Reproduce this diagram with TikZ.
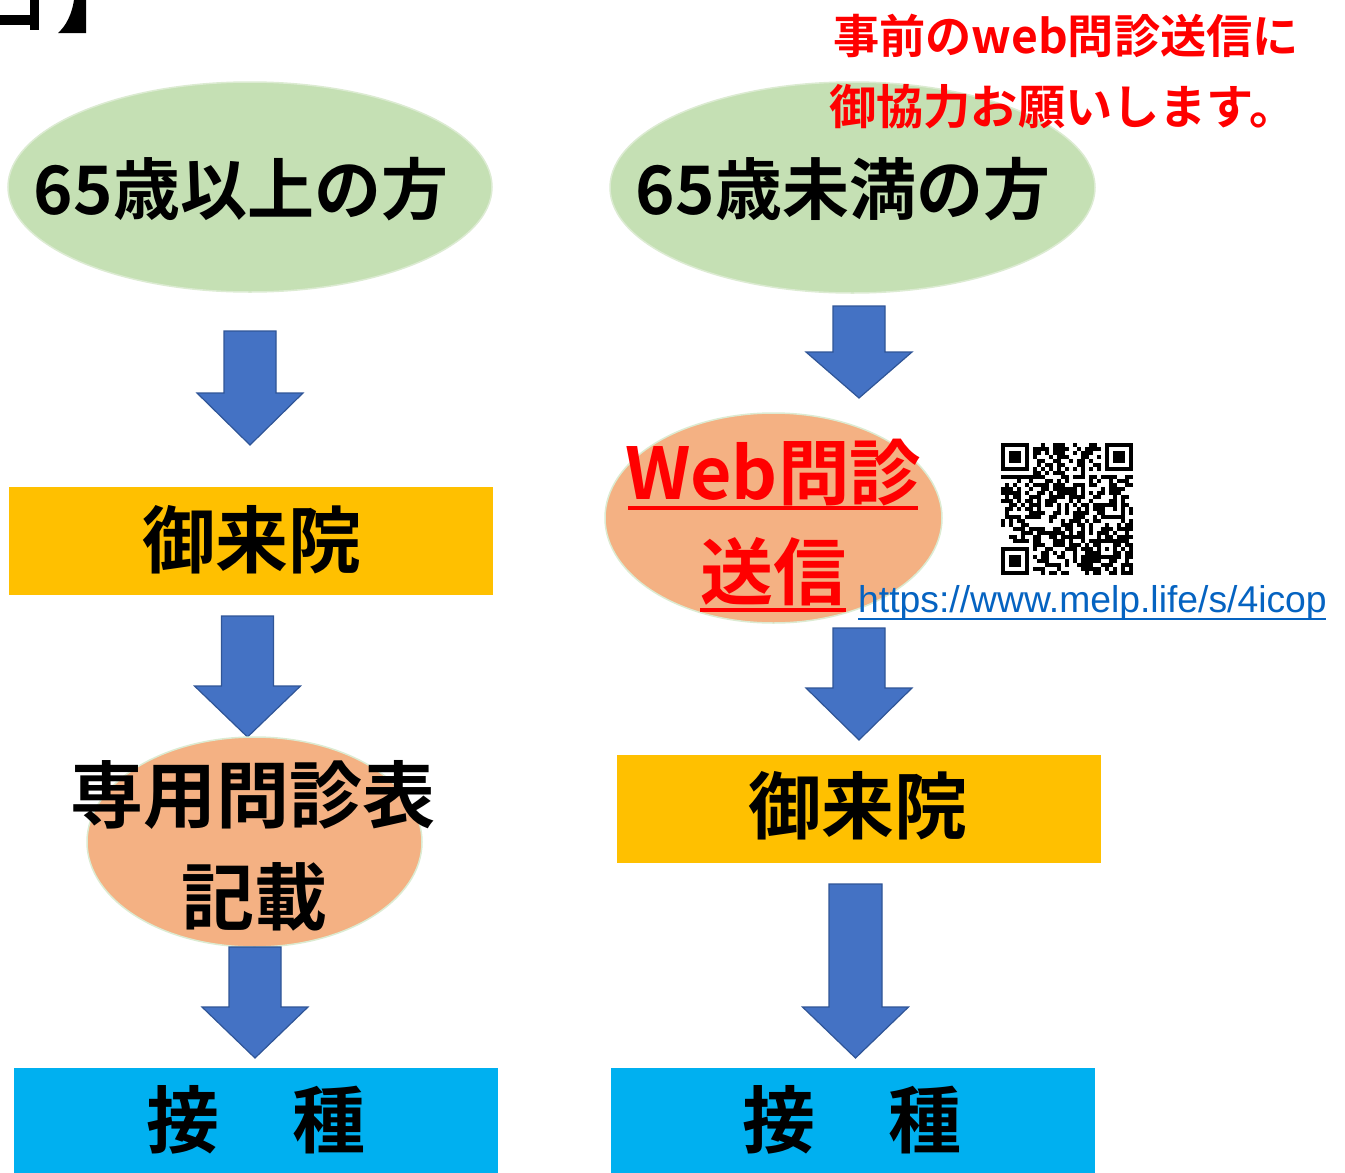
\documentclass[tikz,border=0pt]{standalone}
\usepackage{fontspec}
\usetikzlibrary{shapes.geometric}
\newfontfamily\jp{Noto Sans CJK JP}[BoldFont={Noto Sans CJK JP Bold}]
\newfontfamily\arialf{Liberation Sans}
\definecolor{ellgreen}{HTML}{C5E0B4}
\definecolor{ellgreenline}{HTML}{DCEBD2}
\definecolor{ellorange}{HTML}{F4B183}
\definecolor{boxyellow}{HTML}{FFC000}
\definecolor{boxcyan}{HTML}{00B0F0}
\definecolor{arrowfill}{HTML}{4472C4}
\definecolor{arrowline}{HTML}{2F5597}
\definecolor{linkblue}{HTML}{0563C1}
\newcommand{\blkarrow}[6]{% cx, top, wing y, tip y, shaft half, wing half
  \filldraw[arrowfill, draw=arrowline, line width=1.2pt, line join=miter]
    (#1-#5,#2) -- (#1+#5,#2) -- (#1+#5,#3) -- (#1+#6,#3) -- (#1,#4)
    -- (#1-#6,#3) -- (#1-#5,#3) -- cycle;}
\begin{document}
\begin{tikzpicture}[x=1pt,y=-1pt,
  ellbase/.style={ellipse, draw=ellgreenline, line width=1.5pt, inner sep=0pt},
  greenell/.style={ellbase, fill=ellgreen},
  orangeell/.style={ellbase, fill=ellorange},
  boxy/.style={rectangle, fill=boxyellow, inner sep=0pt, minimum width=484pt, minimum height=108pt},
  boxc/.style={rectangle, fill=boxcyan, inner sep=0pt, minimum width=484pt, minimum height=105pt},
  bigtxt/.style={inner sep=0pt, anchor=base, font=\jp\bfseries\fontsize{73}{80}\selectfont},
  eltxt/.style={inner sep=0pt, anchor=base, font=\jp\bfseries\fontsize{67}{74}\selectfont},
  redtxt/.style={inner sep=0pt, anchor=base west, text=red},
  redul/.style={red, line width=3.2pt},
]
\useasboundingbox (0,0) rectangle (1345,1173);

% top-left corner fragments
\fill (0,15) rectangle (32,25);
\fill (30,0) rectangle (39,30);
\fill (74,0) -- (86,0) -- (86,33) -- (58,33) .. controls (66,26) and (72,14) .. (74,0) -- cycle;

% ---------- left column ----------
\node[greenell, minimum width=484pt, minimum height=210pt] (e1) at (250,187) {};
\node[eltxt] (t1) at (241,214) {65歳以上の方};

\blkarrow{250}{331}{393}{445}{26}{53}

\node[boxy] (b1) at (251,541) {};
\node[bigtxt] (t2) at (252,567) {御来院};

\blkarrow{247.5}{616}{686}{737}{26}{53}

\node[orangeell, minimum width=335pt, minimum height=210pt] (e2) at (254.5,842) {};
\node[bigtxt] (t3) at (253,822) {専用問診表};
\node[bigtxt] (t4) at (254,924) {記載};

\blkarrow{255}{947}{1007}{1058}{26}{53}

\node[boxc, anchor=north west] (b2) at (14,1068) {};
\node[bigtxt] (t5) at (256,1147) {接　種};

% ---------- right column ----------
\node[greenell, minimum width=485pt, minimum height=211pt] (e3) at (852.5,187.5) {};
\node[eltxt] (t6) at (843,214) {65歳未満の方};

\node[redtxt, font=\jp\bfseries\fontsize{46.2}{52}\selectfont] (r1) at (833,53) {事前のweb問診送信に};
\node[redtxt, font=\jp\bfseries\fontsize{47.2}{52}\selectfont] (r2) at (829,124) {御協力お願いします。};

\blkarrow{859}{306}{352}{398}{26}{53}

\node[orangeell, minimum width=337pt, minimum height=210pt] (e4) at (773.5,518) {};
\node[bigtxt, text=red, font=\jp\bfseries\fontsize{71.5}{80}\selectfont] (t7) at (773,499) {Web問診};
\node[bigtxt, text=red] (t8) at (773,599) {送信};
\coordinate (u1a) at (628,508); \coordinate (u1b) at (918,508);
\coordinate (u2a) at (700,610); \coordinate (u2b) at (846,610);
\draw[redul] (u1a) -- (u1b);
\draw[redul] (u2a) -- (u2b);

\node[inner sep=0pt, anchor=base west, text=linkblue, font=\arialf\fontsize{37.3}{40}\selectfont] (url) at (858,612) {https://www.melp.life/s/4icop};
\coordinate (ula) at (858,619); \coordinate (ulb) at (1326,619);
\draw[linkblue, line width=1.6pt] (ula) -- (ulb);

% QR code
\pgfmathsetseed{11}
\foreach \i in {0,...,32}{
  \foreach \j in {0,...,32}{
    \pgfmathtruncatemacro\qv{(rnd<0.52)*(1-((\i<8)*(\j<8)+(\i>24)*(\j<8)+(\i<8)*(\j>24)+(\i==6)+(\j==6)+(\i>23)*(\i<29)*(\j>23)*(\j<29)))}
    \ifnum\qv=1 \fill (1001+\i*4,443+\j*4) rectangle ++(4.05,4.05);\fi
  }}
\foreach \k in {8,10,...,24}{
  \fill (1001+\k*4,443+6*4) rectangle ++(4,4);
  \fill (1001+6*4,443+\k*4) rectangle ++(4,4);
}
\foreach \fx/\fy in {1001/443, 1105/443, 1001/547}{
  \fill (\fx,\fy) rectangle ++(28,28);
  \fill[white] (\fx+4,\fy+4) rectangle ++(20,20);
  \fill (\fx+8,\fy+8) rectangle ++(12,12);
}
\fill (1097,539) rectangle ++(20,20);
\fill[white] (1101,543) rectangle ++(12,12);
\fill (1105,547) rectangle ++(4,4);

\blkarrow{859}{628}{688}{740}{26}{53}

\node[boxy] (b3) at (859,809) {};
\node[bigtxt] (t9) at (858,833) {御来院};

\blkarrow{855.5}{884}{1007}{1058}{26.5}{53}

\node[boxc, anchor=north west] (b4) at (611,1068) {};
\node[bigtxt] (t10) at (852,1147) {接　種};
\end{tikzpicture}
\end{document}
